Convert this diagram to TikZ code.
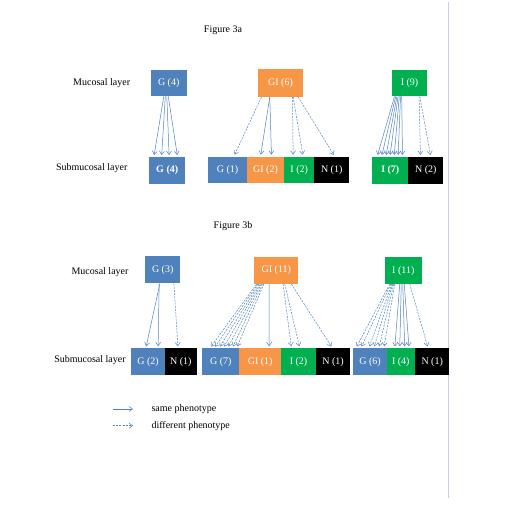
\documentclass[tikz,border=0pt]{standalone}
\usepackage{fontspec}
\setmainfont{Liberation Serif}
\usetikzlibrary{arrows.meta}
\definecolor{gblue}{RGB}{79,129,189}
\definecolor{giorange}{RGB}{247,150,70}
\definecolor{igreen}{RGB}{0,176,80}
\definecolor{pagerule}{RGB}{204,204,228}
\tikzset{
  txt/.style={font=\fontsize{10}{12}\selectfont},
  box/.style={txt, minimum height=26.5, inner sep=0, text=white},
  same/.style={draw=gblue, line width=0.5pt, shorten >=2pt, -{Straight Barb[length=3.5pt,width=5pt]}},
  diff/.style={same, dash pattern=on 2pt off 1.2pt}
}
\begin{document}
\begin{tikzpicture}[x=1pt,y=-1pt]
\useasboundingbox (0,0) rectangle (504,506);
\draw[pagerule, line width=1pt] (448.3,2) -- (448.3,498);

\node[txt] (fig3a) at (223,30) {Figure 3a};
\node[txt] (muca) at (101.7,83) {Mucosal layer};
\node[txt] (subma) at (91.7,167.7) {Submucosal layer};
\node[box, fill=gblue, minimum width=36] (g4m) at (168.7,82.9) {G (4)};
\node[box, fill=giorange, minimum width=44.4, minimum height=27.4] (gi6m) at (280.5,83) {GI (6)};
\node[box, fill=igreen, minimum width=35.6] (i9m) at (409.5,82.9) {I (9)};
\node[box, fill=gblue, minimum width=35.7] (g4s) at (167.2,170.4) {\bfseries G (4)};
\node[box, fill=gblue, minimum width=38.4] (g1s) at (227.5,170) {G (1)};
\node[box, fill=giorange, minimum width=37.6] (gi2s) at (265.5,170) {GI (2)};
\node[box, fill=igreen, minimum width=29.7] (i2s) at (299.2,170) {I (2)};
\node[box, fill=black, minimum width=35.3] (n1s) at (331.7,170) {N (1)};
\node[box, fill=igreen, minimum width=36] (i7s) at (390.3,170.3) {\bfseries I (7)};
\node[box, fill=black, minimum width=35] (n2s) at (425.8,170.3) {N (2)};

\foreach \s/\e in {13.3/4.7,14.8/12.4,16.3/20,17.8/28.4}
  \draw[same] ([xshift=\s]g4m.south west) -- ([xshift=\e]g4s.north west);
\draw[diff] ([xshift=3.4]gi6m.south west) -- ([xshift=25.7]g1s.north west);
\draw[same] ([xshift=11.7]gi6m.south west) -- ([xshift=14]gi2s.north west);
\draw[same] ([xshift=11.7]gi6m.south west) -- ([xshift=25]gi2s.north west);
\draw[diff] ([xshift=34.4]gi6m.south west) -- ([xshift=9]i2s.north west);
\draw[diff] ([xshift=35]gi6m.south west) -- ([xshift=19]i2s.north west);
\draw[diff] ([xshift=40]gi6m.south west) -- ([xshift=21]n1s.north west);
\foreach \s/\e in {3/5,4.2/9.4,5.4/13.7,6.6/17.7,7.8/22,9/26,10.2/30.4}
  \draw[same] ([xshift=\s]i9m.south west) -- ([xshift=\e]i7s.north west);
\draw[diff] ([xshift=27.6]i9m.south west) -- ([xshift=12.4]n2s.north west);
\draw[diff] ([xshift=28.3]i9m.south west) -- ([xshift=22.7]n2s.north west);

\node[txt] (fig3b) at (233,226) {Figure 3b};
\node[txt] (mucb) at (100,271.7) {Mucosal layer};
\node[txt] (submb) at (90,360) {Submucosal layer};
\node[box, fill=gblue, minimum width=34.7, minimum height=27.3] (g3m) at (162.7,269.7) {G (3)};
\node[box, fill=giorange, minimum width=44, minimum height=27.3] (gi11m) at (276.3,270.3) {GI (11)};
\node[box, fill=igreen, minimum width=36.7] (i11m) at (403.3,270.7) {I (11)};
\node[box, fill=gblue, minimum width=34] (g2s) at (148,361.7) {G (2)};
\node[box, fill=black, minimum width=31.7] (n1b) at (180.8,361.7) {N (1)};
\node[box, fill=gblue, minimum width=37] (g7s) at (220.8,361.7) {G (7)};
\node[box, fill=giorange, minimum width=41.7] (gi1s) at (260.2,361.7) {GI (1)};
\node[box, fill=igreen, minimum width=35] (i2b) at (298.5,361.7) {I (2)};
\node[box, fill=black, minimum width=34] (n1c) at (333,361.7) {N (1)};
\node[box, fill=gblue, minimum width=33.4] (g6s) at (370,361.7) {G (6)};
\node[box, fill=igreen, minimum width=28.3] (i4s) at (400.8,361.7) {I (4)};
\node[box, fill=black, minimum width=34.3] (n1d) at (432.2,361.7) {N (1)};

\begin{scope}[every path/.append style={shorten >=4pt}]
\draw[same] ([xshift=14.7]g3m.south west) -- ([xshift=15]g2s.north west);
\draw[same] ([xshift=14]g3m.south west) -- ([xshift=27.3]g2s.north west);
\draw[diff] ([xshift=28.7]g3m.south west) -- ([xshift=13.3]n1b.north west);
\foreach \s/\e in {2.4/7.7,3.6/12,4.8/16.7,6/21,7.2/25.4,8.4/30,9.7/34.4}
  \draw[diff] ([xshift=\s]gi11m.south west) -- ([xshift=\e]g7s.north west);
\draw[same] ([xshift=15]gi11m.south west) -- ([xshift=30]gi1s.north west);
\draw[diff] ([xshift=29]gi11m.south west) -- ([xshift=10.7]i2b.north west);
\draw[diff] ([xshift=30.7]gi11m.south west) -- ([xshift=19]i2b.north west);
\draw[diff] ([xshift=37.4]gi11m.south west) -- ([xshift=16.7]n1c.north west);
\foreach \s/\e in {5/2.7,6/7.7,7/15.7,8/20.7,9/25.7,10/30.7}
  \draw[diff] ([xshift=\s]i11m.south west) -- ([xshift=\e]g6s.north west);
\foreach \s/\e in {15/8.3,16.5/13.3,18/18.3,19.5/22.6}
  \draw[same] ([xshift=\s]i11m.south west) -- ([xshift=\e]i4s.north west);
\draw[diff] ([xshift=25]i11m.south west) -- ([xshift=13.3]n1d.north west);
\end{scope}

\node[txt, anchor=west] (samep) at (148,409) {same phenotype};
\node[txt, anchor=west] (diffp) at (148,425.7) {different phenotype};
\draw[same, shorten >=0pt] ([xshift=-35]samep.west) -- ([xshift=-15]samep.west);
\draw[diff, shorten >=0pt] ([xshift=-35]diffp.west) -- ([xshift=-15]diffp.west);
\end{tikzpicture}
\end{document}
